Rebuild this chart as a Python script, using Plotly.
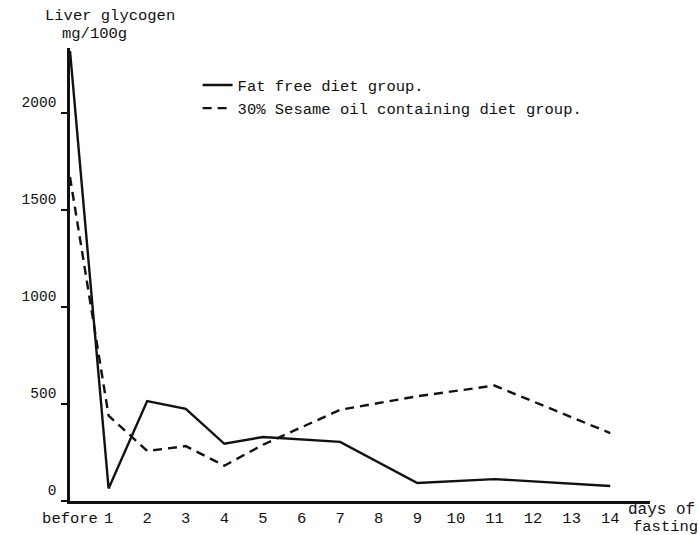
import plotly.graph_objects as go

# Data
day_pos = [0, 1, 2, 3, 4, 5, 7, 9, 11, 14]
fat_free = [2320, 65, 515, 475, 295, 330, 305, 93, 113, 77]
sesame = [1670, 440, 258, 283, 182, 290, 470, 540, 595, 350]

tick_vals = list(range(0, 15))
tick_text = ["before"] + [str(i) for i in range(1, 15)]
y_ticks = [0, 500, 1000, 1500, 2000]

FONT = "Liberation Mono, Courier New, monospace"
INK = "#111111"

fig = go.Figure()
fig.add_trace(go.Scatter(
    x=day_pos, y=fat_free, mode="lines", name="Fat free diet group.",
    line=dict(color=INK, width=2.4)))
fig.add_trace(go.Scatter(
    x=day_pos, y=sesame, mode="lines", name="30% Sesame oil containing diet group.",
    line=dict(color=INK, width=2.4, dash="9px,6px")))

fig.update_layout(
    width=699, height=535,
    margin=dict(l=70, r=49, t=48, b=34, autoexpand=False),
    paper_bgcolor="white", plot_bgcolor="white",
    font=dict(family=FONT, size=15, color=INK),
    showlegend=True,
    legend=dict(x=0.22, y=0.955, xanchor="left", yanchor="top",
                bgcolor="rgba(0,0,0,0)", font=dict(family=FONT, size=15.5, color=INK),
                tracegroupgap=0),
    xaxis=dict(range=[0, 15.03], tickvals=tick_vals, ticktext=tick_text,
               showgrid=False, zeroline=False, showline=True, linecolor=INK,
               linewidth=2.5, ticks="", ticklabelstandoff=1, automargin=False,
               tickfont=dict(family=FONT, size=15.5, color=INK)),
    yaxis=dict(range=[0, 2335], tickvals=y_ticks, showgrid=False, zeroline=False,
               showline=True, linecolor=INK, linewidth=2.5, ticks="outside",
               ticklen=6, tickwidth=1.5, tickcolor=INK, ticklabelstandoff=8,
               ticklabelposition="outside top", automargin=False,
               tickfont=dict(family=FONT, size=14.5, color=INK)),
    annotations=[
        dict(text="Liver glycogen", xref="paper", yref="paper", x=-0.047, y=1.070,
             xanchor="left", yanchor="middle", showarrow=False,
             font=dict(family=FONT, size=15.5, color=INK)),
        dict(text="mg/100g", xref="paper", yref="paper", x=-0.017, y=1.031,
             xanchor="left", yanchor="middle", showarrow=False,
             font=dict(family=FONT, size=15.5, color=INK)),
        dict(text="days of", xref="paper", yref="paper", x=0.958, y=-0.020,
             xanchor="left", yanchor="middle", showarrow=False,
             font=dict(family=FONT, size=16, color=INK)),
        dict(text="fasting", xref="paper", yref="paper", x=0.967, y=-0.057,
             xanchor="left", yanchor="middle", showarrow=False,
             font=dict(family=FONT, size=15.5, color=INK)),
    ],
)

fig.write_html("out.html", config={"displayModeBar": False},
               post_script="document.body.style.margin='0';")
